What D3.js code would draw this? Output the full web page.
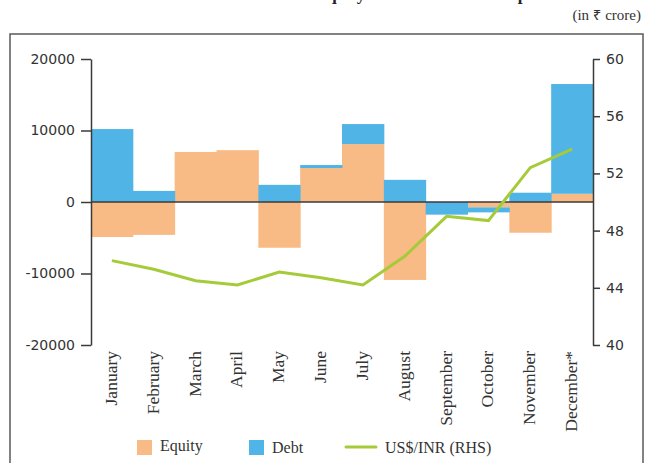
<!DOCTYPE html>
<html>
<head>
<meta charset="utf-8">
<script src="https://cdn.jsdelivr.net/npm/d3@7"></script>
<style>
  body { margin: 0; background: #fff; }
  svg { display: block; }
</style>
</head>
<body>
<svg></svg>
<script>
// data
var months = ["January", "February", "March", "April", "May", "June",
              "July", "August", "September", "October", "November", "December*"];
var equity = [-4900, -4600, 7000, 7250, -6400, 4750, 8100, -10900, 0, -750, -4300, 1150];
var debt = [10200, 1550, 0, 0, 2400, 420, 2800, 3100, -1770, -700, 1300, 15350];
var usdInr = [45.9, 45.3, 44.5, 44.2, 45.1, 44.7, 44.2, 46.2, 49.0, 48.7, 52.4, 53.7];
var leftTicks = [-20000, -10000, 0, 10000, 20000];
var rightTicks = [40, 44, 48, 52, 56, 60];

var width = 646, height = 463;
var plotLeft = 91, plotRight = 593, plotTop = 59, plotBottom = 345;

var svg = d3.select("svg")
    .attr("width", width)
    .attr("height", height);

// outer frame
svg.append("rect")
    .attr("x", 10).attr("y", 34)
    .attr("width", 633).attr("height", 460)
    .attr("fill", "none")
    .attr("stroke", "#5a5a5a")
    .attr("stroke-width", 1.5);

// title, mostly cropped off the top like in the reference
svg.append("text")
    .attr("x", 330).attr("y", 0)
    .attr("text-anchor", "middle")
    .style("font-family", "Liberation Serif")
    .style("font-weight", "bold")
    .style("font-size", "17px")
    .attr("fill", "#222")
    .text("Chart 3: Net FPI flows into equity and debt and the Rupee");

svg.append("text")
    .attr("x", 641).attr("y", 20)
    .attr("text-anchor", "end")
    .style("font-family", "Liberation Serif, Noto Sans")
    .style("font-size", "15px")
    .attr("fill", "#333")
    .text("(in ₹ crore)");

var x = d3.scaleBand()
    .domain(months)
    .range([plotLeft, plotRight])
    .padding(0);

var y = d3.scaleLinear()
    .domain([-20000, 20000])
    .range([plotBottom, plotTop]);

var y2 = d3.scaleLinear()
    .domain([40, 60])
    .range([plotBottom, plotTop]);

var rows = months.map(function (m, i) {
    return { month: m, Equity: equity[i], Debt: debt[i] };
});

var stacked = d3.stack()
    .keys(["Equity", "Debt"])
    .offset(d3.stackOffsetDiverging)(rows);

var colors = { Equity: "#f9bb85", Debt: "#50b5e6" };

svg.append("g")
    .selectAll("g")
    .data(stacked)
    .enter()
    .append("g")
    .attr("fill", function (d) { return colors[d.key]; })
    .selectAll("rect")
    .data(function (d) { return d; })
    .enter()
    .append("rect")
    .attr("x", function (d) { return x(d.data.month); })
    .attr("width", x.bandwidth() + 0.5)
    .attr("y", function (d) { return y(d[1]); })
    .attr("height", function (d) { return y(d[0]) - y(d[1]); });

// zero line
svg.append("line")
    .attr("x1", plotLeft).attr("x2", plotRight)
    .attr("y1", y(0)).attr("y2", y(0))
    .attr("stroke", "#3a3a3a")
    .attr("stroke-width", 1.5);

// exchange rate line
var line = d3.line()
    .x(function (d, i) { return x(months[i]) + x.bandwidth() / 2; })
    .y(function (d) { return y2(d); });

svg.append("path")
    .datum(usdInr)
    .attr("d", line)
    .attr("fill", "none")
    .attr("stroke", "#a5cb39")
    .attr("stroke-width", 3);

// axes (plain hyphen for negatives, as in the reference)
var leftAxis = svg.append("g")
    .attr("transform", "translate(" + plotLeft + ",0)")
    .call(d3.axisLeft(y).tickValues(leftTicks).tickSize(10).tickSizeOuter(0)
        .tickFormat(function (d) { return String(d); }));

var rightAxis = svg.append("g")
    .attr("transform", "translate(" + plotRight + ",0)")
    .call(d3.axisRight(y2).tickValues(rightTicks).tickSize(7).tickSizeOuter(0));

[leftAxis, rightAxis].forEach(function (g) {
    g.select(".domain").attr("stroke", "#3a3a3a").attr("stroke-width", 1.5);
    g.selectAll(".tick line").attr("stroke", "#3a3a3a").attr("stroke-width", 1.5);
    g.selectAll(".tick text")
        .style("font-family", "DejaVu Sans")
        .style("font-size", "14px")
        .attr("fill", "#333");
});
leftAxis.selectAll(".tick text").attr("x", -16);
rightAxis.selectAll(".tick text").attr("x", 13);

// month labels
svg.append("g")
    .selectAll("text")
    .data(months)
    .enter()
    .append("text")
    .attr("transform", function (d) {
        return "translate(" + (x(d) + x.bandwidth() / 2 + 5) + "," + 351 + ") rotate(-90)";
    })
    .attr("text-anchor", "end")
    .style("font-family", "Liberation Serif")
    .style("font-size", "17.5px")
    .attr("fill", "#333")
    .text(function (d) { return d; });

// legend
var legend = svg.append("g");
legend.append("rect").attr("x", 137).attr("y", 440).attr("width", 15).attr("height", 15).attr("fill", colors.Equity);
legend.append("text").attr("x", 160).attr("y", 451).text("Equity");
legend.append("rect").attr("x", 249).attr("y", 440).attr("width", 15).attr("height", 15).attr("fill", colors.Debt);
legend.append("text").attr("x", 272).attr("y", 453).text("Debt");
legend.append("line").attr("x1", 346).attr("x2", 376).attr("y1", 447).attr("y2", 447)
    .attr("stroke", "#a5cb39").attr("stroke-width", 3).attr("stroke-linecap", "round");
legend.append("text").attr("x", 385).attr("y", 453).text("US$/INR (RHS)");
legend.selectAll("text")
    .style("font-family", "Liberation Serif")
    .style("font-size", "16px")
    .attr("fill", "#333");
</script>
</body>
</html>
